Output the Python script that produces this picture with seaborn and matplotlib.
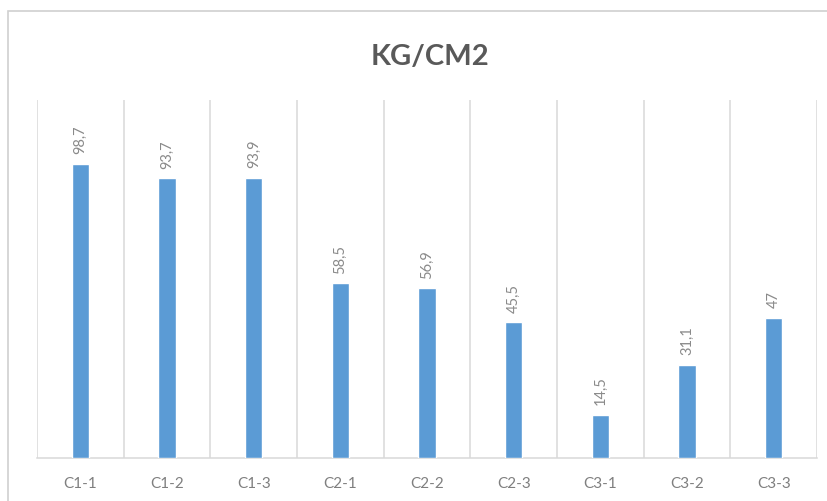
import matplotlib
matplotlib.use("Agg")
import matplotlib.pyplot as plt
import seaborn as sns
import pandas as pd
from matplotlib.patches import Rectangle

# Compressive strength per sample
categories = ["C1-1", "C1-2", "C1-3", "C2-1", "C2-2", "C2-3", "C3-1", "C3-2", "C3-3"]
values = [98.7, 93.7, 93.9, 58.5, 56.9, 45.5, 14.5, 31.1, 47]
value_labels = ["98,7", "93,7", "93,9", "58,5", "56,9", "45,5", "14,5", "31,1", "47"]
title = "KG/CM2"

df = pd.DataFrame({"sample": categories, "value": values})

sns.set_theme(style="white")
plt.rcParams["font.family"] = ["Lato", "DejaVu Sans"]

fig = plt.figure(figsize=(8.28, 5.01), dpi=100)
fig.patch.set_facecolor("white")

# Outer chart frame (runs past the right and bottom edges)
fig.patches.append(Rectangle((8 / 828, -0.1), 1.2, 1 - 11 / 501 + 0.1,
                             transform=fig.transFigure, fill=False,
                             edgecolor="#d0d0d0", linewidth=1.2, zorder=0))

ax = fig.add_axes([37 / 828, 43 / 501, (817 - 37) / 828, (458 - 100) / 501])
sns.barplot(data=df, x="sample", y="value", color="#5B9BD5", width=0.2,
            saturation=1, ax=ax, zorder=3)

ax.set_ylim(0, 120)
ax.set_xlim(-0.5, len(categories) - 0.5)

# Vertical separators between categories
for b in range(len(categories) + 1):
    ax.axvline(b - 0.5, color="#d9d9d9", linewidth=1.1, zorder=1)

for s in ["top", "right", "left"]:
    ax.spines[s].set_visible(False)
ax.spines["bottom"].set_color("#d9d9d9")
ax.spines["bottom"].set_linewidth(1.1)

ax.set_yticks([])
ax.set_xlabel("")
ax.set_ylabel("")
ax.tick_params(axis="x", length=0, pad=14, labelsize=11, labelcolor="#7f7f7f")

for i, (v, lab) in enumerate(zip(values, value_labels)):
    ax.annotate(lab, xy=(i, v), xytext=(0, 7), textcoords="offset points",
                rotation=90, ha="center", va="bottom", fontsize=10.5,
                color="#8a8a8a")

fig.text(430 / 828, 1 - 57 / 501, title, ha="center", va="center",
         fontsize=21, fontweight="bold", color="#595959")

fig.savefig("out.png", dpi=100, facecolor="white")
